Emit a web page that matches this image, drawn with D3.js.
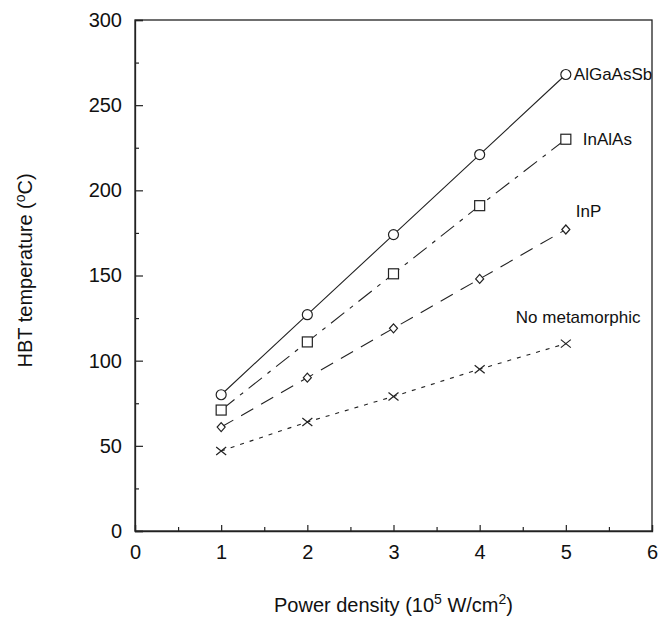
<!DOCTYPE html>
<html>
<head>
<meta charset="utf-8">
<script src="https://cdn.jsdelivr.net/npm/d3@7"></script>
<style>
  body { margin: 0; background: #fff; }
  text { font-family: "Liberation Sans", Arial, sans-serif; fill: #111; }
</style>
</head>
<body>
<svg width="667" height="621"></svg>
<script>
var svg = d3.select("svg");

// data
var powerDensity = [1, 2, 3, 4, 5];
var algaassb = [80, 127, 174, 221, 268];
var inalas = [71, 111, 151, 191, 230];
var inp = [61, 90, 119, 148, 177];
var noMeta = [47, 64, 79, 95, 110];
var seriesNames = ["AlGaAsSb", "InAlAs", "InP", "No metamorphic"];
var xTicks = [0, 1, 2, 3, 4, 5, 6];
var yTicks = [0, 50, 100, 150, 200, 250, 300];

var plotLeft = 135, plotRight = 652, plotTop = 20, plotBottom = 531;

var x = d3.scaleLinear().domain([0, 6]).range([plotLeft, plotRight]);
var y = d3.scaleLinear().domain([0, 300]).range([plotBottom, plotTop]);

var series = [
  { name: seriesNames[0], values: algaassb, dash: null, marker: "circle", ldx: 8, ldy: 0 },
  { name: seriesNames[1], values: inalas, dash: "17,7,4,7", marker: "square", ldx: 17, ldy: 0 },
  { name: seriesNames[2], values: inp, dash: "14,9", marker: "diamond", ldx: 10, ldy: -18 },
  { name: seriesNames[3], values: noMeta, dash: "4,6", marker: "cross", ldx: -50, ldy: -27 }
];

// frame
svg.append("rect")
    .attr("x", plotLeft).attr("y", plotTop)
    .attr("width", plotRight - plotLeft).attr("height", plotBottom - plotTop)
    .attr("fill", "none")
    .attr("stroke", "#222")
    .attr("stroke-width", 1.3);

// axes (ticks pointing inward)
svg.append("g")
    .attr("transform", "translate(0," + plotBottom + ")")
    .call(d3.axisBottom(x).tickValues(xTicks).tickSize(-6).tickPadding(14).tickFormat(d3.format("d")));
svg.append("g")
    .attr("transform", "translate(0," + plotBottom + ")")
    .call(d3.axisBottom(x).tickValues(d3.range(0.5, 6, 1)).tickSize(-4).tickFormat(""))
    .select(".domain").remove();

svg.append("g")
    .attr("transform", "translate(" + plotLeft + ",0)")
    .call(d3.axisLeft(y).tickValues(yTicks).tickSize(-8).tickPadding(13).tickFormat(d3.format("d")));
svg.append("g")
    .attr("transform", "translate(" + plotLeft + ",0)")
    .call(d3.axisLeft(y).tickValues(d3.range(25, 300, 50)).tickSize(-4).tickFormat(""))
    .select(".domain").remove();

svg.selectAll(".domain").attr("stroke", "#222").attr("stroke-width", 1.3);
svg.selectAll(".tick line").attr("stroke", "#222").attr("stroke-width", 1.2);
svg.selectAll(".tick text")
    .attr("font-size", 20)
    .attr("font-family", "Liberation Sans, Arial, sans-serif")
    .attr("fill", "#111");

// axis titles
svg.append("text")
    .attr("transform", "translate(32," + y(153) + ") rotate(-90)")
    .attr("text-anchor", "middle")
    .attr("font-size", 20)
    .html('HBT temperature (<tspan font-size="14" dy="-7">o</tspan><tspan dy="7">C)</tspan>');

svg.append("text")
    .attr("x", x(3))
    .attr("y", 612)
    .attr("text-anchor", "middle")
    .attr("font-size", 20)
    .html('Power density (10<tspan font-size="14" dy="-8">5</tspan><tspan dy="8"> W/cm</tspan><tspan font-size="14" dy="-8">2</tspan><tspan dy="8">)</tspan>');

// lines
var line = d3.line()
    .x(function(d, i) { return x(powerDensity[i]); })
    .y(function(d) { return y(d); });

series.forEach(function(s) {
  svg.append("path")
      .datum(s.values)
      .attr("d", line)
      .attr("fill", "none")
      .attr("stroke", "#222")
      .attr("stroke-width", 1.1)
      .attr("stroke-dasharray", s.dash);
});

// markers
series.forEach(function(s) {
  var g = svg.append("g");
  s.values.forEach(function(v, i) {
    var cx = x(powerDensity[i]), cy = y(v);
    if (s.marker == "circle") {
      g.append("circle").attr("cx", cx).attr("cy", cy).attr("r", 5)
          .attr("fill", "#fff").attr("stroke", "#222").attr("stroke-width", 1.2);
    } else if (s.marker == "square") {
      g.append("rect").attr("x", cx - 5).attr("y", cy - 5).attr("width", 10).attr("height", 10)
          .attr("fill", "#fff").attr("stroke", "#222").attr("stroke-width", 1.2);
    } else if (s.marker == "diamond") {
      g.append("path").attr("d", "M" + cx + "," + (cy - 4.5) + "L" + (cx + 4) + "," + cy +
            "L" + cx + "," + (cy + 4.5) + "L" + (cx - 4) + "," + cy + "Z")
          .attr("fill", "#fff").attr("stroke", "#222").attr("stroke-width", 1.2);
    } else {
      g.append("path").attr("d", "M" + (cx - 5) + "," + (cy - 4) + "L" + (cx + 5) + "," + (cy + 4) +
            "M" + (cx + 5) + "," + (cy - 4) + "L" + (cx - 5) + "," + (cy + 4))
          .attr("fill", "none").attr("stroke", "#222").attr("stroke-width", 1.2);
    }
  });

  // series label next to last point
  var last = s.values.length - 1;
  svg.append("text")
      .attr("x", x(powerDensity[last]) + s.ldx)
      .attr("y", y(s.values[last]) + s.ldy)
      .attr("dy", "0.35em")
      .attr("font-size", 17)
      .text(s.name);
});
</script>
</body>
</html>
